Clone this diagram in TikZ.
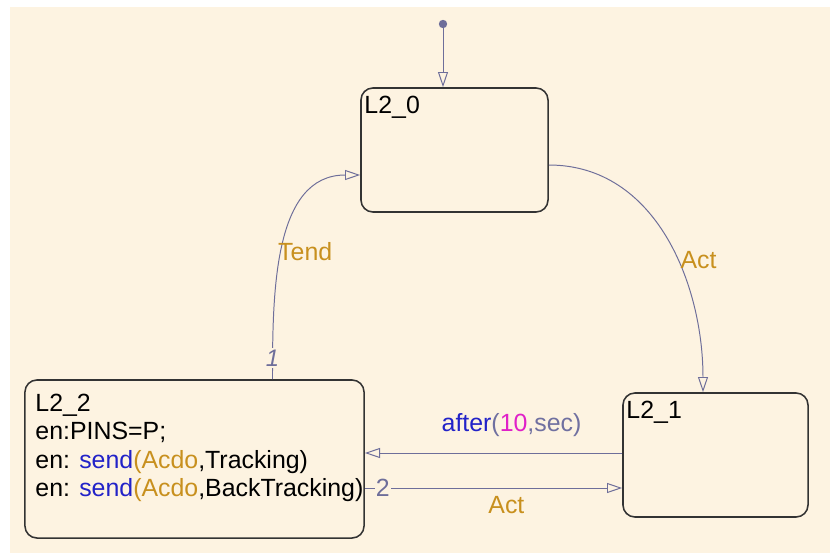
\documentclass[tikz,border=0pt]{standalone}
\usepackage{fontspec}
\setmainfont{Liberation Sans}
\usetikzlibrary{arrows.meta,calc}

\definecolor{bgcream}{HTML}{FDF3E1}
\definecolor{trline}{HTML}{6E6E9A}
\definecolor{lblorange}{HTML}{C8901E}
\definecolor{kwblue}{HTML}{2222C8}
\definecolor{nummag}{HTML}{E020C8}
\definecolor{parengray}{HTML}{7070A0}

\tikzset{
  chartfont/.style={font=\fontsize{17.7}{20}\selectfont},
  state/.style={draw=black!80, line width=1.1pt, rounded corners=0.3cm},
  statetext/.style={chartfont, anchor=north west, align=left, inner sep=0pt, text=black},
  trans/.style={draw=trline, line width=0.7pt, -{Triangle[open, length=0.38cm, width=0.25cm]}},
  evlabel/.style={chartfont, text=lblorange},
  nolabel/.style={chartfont, text=trline, fill=bgcream, inner sep=1pt}
}

\begin{document}
\begin{tikzpicture}[x=0.025cm, y=-0.025cm]
			\useasboundingbox (0,0) rectangle (830,553);
			\fill[bgcream] (10,7) rectangle (830,553);

			% states
			\node[state, minimum width=4.675cm, minimum height=3.1cm] (s0) at (454.5,150) {};
			\node[state, minimum width=4.625cm, minimum height=3.1cm] (s1) at (715.5,455) {};
			\node[state, minimum width=8.475cm, minimum height=3.95cm] (s2) at (194.5,459) {};

			\node[statetext] (s0t) at ($(s0.north west)+(4,9)$) {L2\_0};
			\node[statetext] (s1t) at ($(s1.north west)+(4,9)$) {L2\_1};
			\node[statetext] (s2t) at ($(s2.north west)+(11,15)$) {L2\_2\\
				en:PINS=P;\\
				en: \textcolor{kwblue}{send}\textcolor{lblorange}{(Acdo}{,Tracking)}\\
				en: \textcolor{kwblue}{send}\textcolor{lblorange}{(Acdo}{,BackTracking)}};

			% default transition
			\node[circle, fill=trline, inner sep=0pt, minimum size=0.21cm] (init) at (443,24) {};
			\draw[trans] (init) -- (init |- s0.north);

			% transitions
			\draw[trans] ($(s0.east)+(0,15)$) to[out=0, in=90]
				node[evlabel, pos=0.58, anchor=west, inner sep=2pt] (actA) {Act}
				($(s1.north)+(-12.5,0)$);
			\draw[trans] ($(s2.north)+(78,0)$) to[out=90, in=180]
				node[nolabel, pos=0.08, font=\fontsize{17}{20}\selectfont\itshape] (no1) {1}
				node[evlabel, pos=0.47, anchor=west, inner sep=0pt, xshift=-3pt] (tend) {Tend}
				($(s0.west)+(0,25)$);

			\coordinate (afterstart) at ($(s1.west)+(0,-2)$);
			\draw[trans] (afterstart) -- node[chartfont, pos=0.43, above=8pt] (after) {\textcolor{kwblue}{after}\textcolor{parengray}{(}\textcolor{nummag}{10}\textcolor{parengray}{,sec)}} (afterstart -| s2.east);

			\coordinate (actstart) at ($(s2.east)+(0,29)$);
			\draw[trans] (actstart) -- node[nolabel, pos=0.07] (no2) {2}
				node[evlabel, pos=0.55, below=2pt] (actB) {Act} (actstart -| s1.west);
		\end{tikzpicture}
\end{document}
